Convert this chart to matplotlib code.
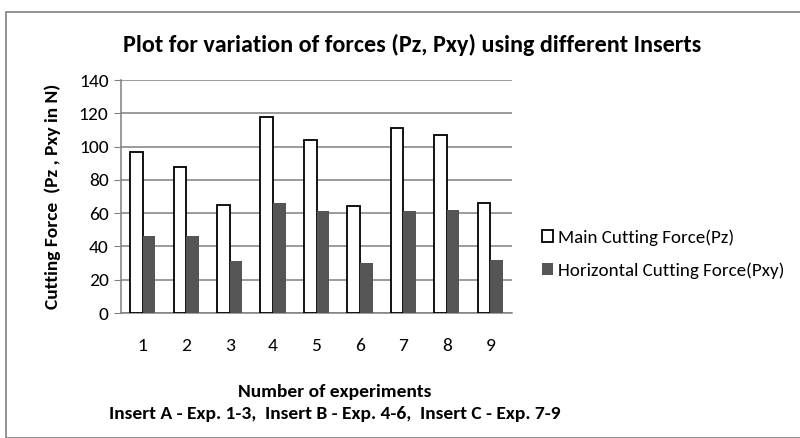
import matplotlib
matplotlib.use('Agg')
import matplotlib.pyplot as plt
import numpy as np
from matplotlib.patches import Rectangle

plt.rcParams['font.family'] = ['Carlito', 'Liberation Sans Narrow', 'Liberation Sans', 'DejaVu Sans']

# Data
experiments = ['1', '2', '3', '4', '5', '6', '7', '8', '9']
main_force = [97, 88, 65, 118, 104, 64, 111, 107, 66]
horizontal_force = [46, 46, 31, 66, 61, 30, 61, 62, 32]
y_ticks = [0, 20, 40, 60, 80, 100, 120, 140]

W, H = 800, 438
fig = plt.figure(figsize=(8, 4.38), dpi=100)

# outer chart frame (Excel-style border)
fig.patches.append(Rectangle((6 / W, 0), 1, 1 - 12 / H, transform=fig.transFigure,
                             fill=False, edgecolor='#808080', linewidth=1.2))

ax = fig.add_axes([121 / W, 1 - 313 / H, (512 - 121) / W, (313 - 80) / H])

x = np.arange(len(experiments))
width = 0.29
ax.bar(x - width / 2, main_force, width, color='white', edgecolor='black',
       linewidth=1.3, label='Main Cutting Force(Pz)', zorder=3)
ax.bar(x + width / 2, horizontal_force, width, color='#555555',
       label='Horizontal Cutting Force(Pxy)', zorder=3)

ax.set_xlim(-0.5, len(experiments) - 0.5)
ax.set_ylim(0, 140)
ax.set_yticks(y_ticks)
ax.set_xticks(x)
ax.set_xticklabels(experiments)
ax.tick_params(axis='x', length=0, pad=18, labelsize=14)
ax.tick_params(axis='y', length=5, color='#808080', labelsize=14, pad=4)
ax.yaxis.grid(True, color='#808080', linewidth=1.1, zorder=0)
ax.set_axisbelow(True)

for side in ['top', 'right']:
    ax.spines[side].set_visible(False)
for side in ['left', 'bottom']:
    ax.spines[side].set_color('#808080')
    ax.spines[side].set_linewidth(1.1)

ax.set_ylabel('Cutting Force  (Pz , Pxy in N)', fontsize=14, fontweight='bold', labelpad=13)

fig.text(412 / W, 1 - 45 / H, 'Plot for variation of forces (Pz, Pxy) using different Inserts',
         ha='center', va='center', fontsize=17.4, fontweight='bold')
fig.text(335 / W, 1 - 392 / H, 'Number of experiments', ha='center', va='center',
         fontsize=14, fontweight='bold')
fig.text(335 / W, 1 - 414 / H, 'Insert A - Exp. 1-3,  Insert B - Exp. 4-6,  Insert C - Exp. 7-9',
         ha='center', va='center', fontsize=14, fontweight='bold')

fig.legend(loc='center left', bbox_to_anchor=(529 / W, 1 - 254 / H), frameon=False,
           fontsize=13.7, handlelength=0.55, handleheight=0.55, handletextpad=0.3,
           labelspacing=0.85, borderpad=0.2)

plt.savefig('out.png', dpi=100)
plt.close()
